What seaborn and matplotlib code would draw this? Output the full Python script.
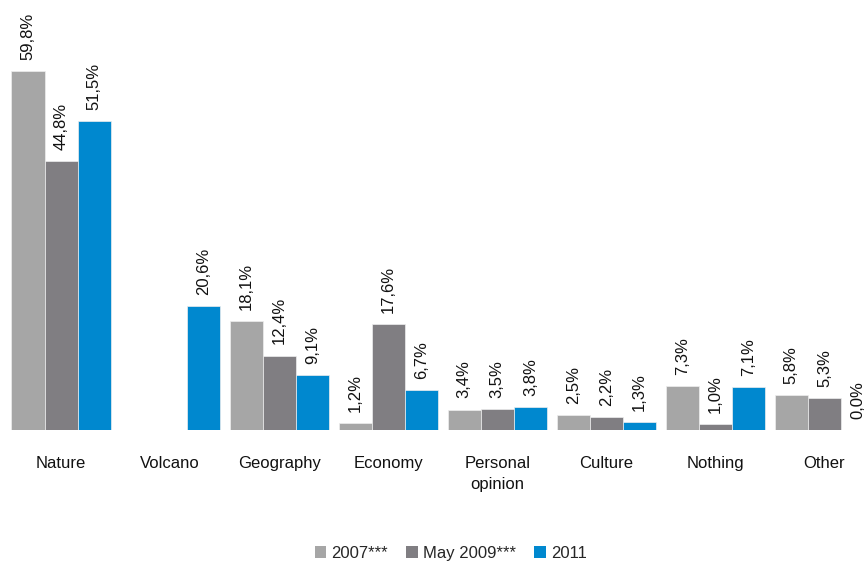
import numpy as np
import pandas as pd
import matplotlib
matplotlib.use("Agg")
import matplotlib.pyplot as plt
import seaborn as sns
from matplotlib.patches import Patch

categories = ["Nature", "Volcano", "Geography", "Economy", "Personal\nopinion",
              "Culture", "Nothing", "Other"]
series_names = ["2007***", "May 2009***", "2011"]
values_2007 = [59.8, np.nan, 18.1, 1.2, 3.4, 2.5, 7.3, 5.8]
values_2009 = [44.8, np.nan, 12.4, 17.6, 3.5, 2.2, 1.0, 5.3]
values_2011 = [51.5, 20.6, 9.1, 6.7, 3.8, 1.3, 7.1, 0.0]
colors = ["#A6A6A6", "#807E82", "#0088CF"]

df = pd.DataFrame({
    "category": categories * 3,
    "series": sum([[s] * len(categories) for s in series_names], []),
    "value": values_2007 + values_2009 + values_2011,
})

sns.set_theme(style="white")
plt.rcParams["font.family"] = ["Liberation Sans", "DejaVu Sans"]

fig = plt.figure(figsize=(8.67, 5.65), dpi=100)
ax = fig.add_axes([0.0, 135 / 565, 1.0, 430 / 565])

sns.barplot(data=df, x="category", y="value", hue="series",
            order=categories, hue_order=series_names, palette=colors,
            width=0.91, saturation=1, edgecolor="#EEEEEE", linewidth=0.5,
            errorbar=None, ax=ax, legend=False)

for cont in ax.containers:
    ax.bar_label(cont, labels=[f"{v:.1f}%".replace(".", ",") for v in cont.datavalues],
                 rotation=90, padding=8, fontsize=12, color="#111111")

ax.set_xlim(-0.56, 7.39)
ax.set_ylim(0, 430 / 6)
ax.set_xlabel("")
ax.set_ylabel("")
ax.set_yticks([])
ax.tick_params(axis="x", length=0, pad=19, labelsize=12, labelcolor="#111111")
for lbl in ax.get_xticklabels():
    lbl.set_linespacing(1.5)
for sp in ax.spines.values():
    sp.set_visible(False)

handles = [Patch(facecolor=c, edgecolor="none") for c in colors]
fig.legend(handles, series_names, loc="center", bbox_to_anchor=(0.52, 0.021),
           ncol=3, frameon=False, fontsize=12, handlelength=0.7,
           handleheight=0.7, handletextpad=0.3, columnspacing=1.1)

fig.savefig("out.png", dpi=100)
